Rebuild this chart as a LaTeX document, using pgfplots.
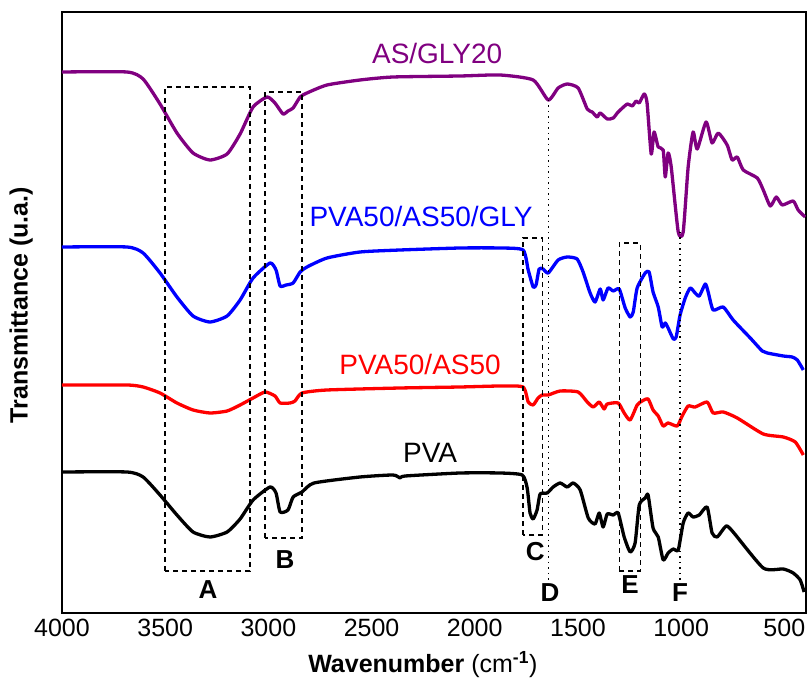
\documentclass[border=0pt]{standalone}
\usepackage{pgfplots}
\pgfplotsset{compat=1.18}
\usepackage{fontspec}
\setmainfont{Liberation Sans}
\definecolor{mypurple}{RGB}{128,0,128}
\begin{document}
\begin{tikzpicture}
\begin{axis}[
  at={(0,0)}, anchor=south west,
  scale only axis, width=744pt, height=601pt,
  x dir=reverse, xmin=395, xmax=4000, ymin=67, ymax=668,
  xtick={500,1000,...,4000}, ytick=\empty,
  major tick length=0pt,
  /pgf/number format/assume math mode=true,
  /pgf/number format/set thousands separator={},
  tick label style={font=\fontsize{25}{30}\selectfont},
  xticklabel style={yshift=-3pt},
  axis line style={line width=2pt},
  xlabel={\textbf{Wavenumber} (cm\textsuperscript{\textbf{-1}})},
  ylabel={\textbf{Transmittance (u.a.)}},
  label style={font=\fontsize{25}{30}\selectfont},
  x label style={at={(axis description cs:0.485,-0.0865)}, anchor=center},
  y label style={at={(axis description cs:-0.055,0.512)}, anchor=center},
  every axis plot/.append style={line width=3.3pt, line join=round, smooth, tension=0.35},
]
% AS/GLY20
\addplot[mypurple] coordinates {
(4000,608)(3685,608)(3607,601)(3525,576)(3443,547)(3365,527)(3283,520)(3200,526)(3137,546)(3074,573)
(3006,583)(2968,577)(2929,566)(2905,569)(2880,572)(2846,583)(2813,587)(2716,595)(2556,600)(2396,603)
(2071,604)(1877,605)(1717,600)(1644,580)(1596,592)(1552,596)(1499,592)(1455,571)(1431,568)(1407,563)
(1392,567)(1358,561)(1329,562)(1305,568)(1261,576)(1237,574)(1218,579)(1203,577)(1179,586)(1165,577)
(1145,526)(1131,548)(1111,533)(1087,530)(1077,503)(1063,527)(1048,513)(1014,448)(990,448)(966,513)
(942,548)(922,531)(879,558)(850,537)(820,547)(777,535)(753,520)(728,523)(699,510)(631,502)
(602,490)(568,474)(539,483)(510,475)(457,479)(433,470)(399,463)
};
% PVA50/AS50/GLY
\addplot[blue] coordinates {
(4000,433)(3685,433)(3607,427)(3525,407)(3443,383)(3365,364)(3283,358)(3200,364)(3137,380)(3074,402)
(2992,417)(2963,410)(2943,394)(2914,395)(2880,397)(2846,408)(2813,413)(2716,422)(2556,428)(2362,430)
(2071,432)(1877,432)(1766,430)(1741,410)(1717,393)(1703,395)(1688,411)(1669,411)(1644,407)(1596,420)
(1552,423)(1504,421)(1475,408)(1441,387)(1417,378)(1392,391)(1378,380)(1354,392)(1329,389)(1300,391)
(1271,372)(1247,363)(1232,368)(1213,392)(1174,407)(1155,408)(1136,388)(1111,373)(1092,353)(1077,357)
(1063,352)(1038,341)(1024,343)(1005,365)(980,382)(956,392)(932,387)(912,384)(883,396)(869,388)
(845,370)(796,373)(748,360)(665,342)(607,329)(583,327)(505,324)(462,323)(437,320)(408,310)
};
% PVA50/AS50
\addplot[red] coordinates {
(4000,295)(3685,295)(3607,293)(3525,287)(3443,277)(3365,270)(3283,267)(3200,269)(3137,275)(3074,282)
(3016,288)(2968,284)(2943,277)(2895,277)(2871,279)(2837,287)(2716,290)(2362,292)(2071,293)(1877,294)
(1766,293)(1741,278)(1717,275)(1693,282)(1673,285)(1644,285)(1586,289)(1499,288)(1455,278)(1426,273)
(1397,278)(1373,271)(1358,276)(1305,277)(1276,267)(1247,260)(1213,275)(1189,279)(1160,281)(1136,270)
(1111,264)(1087,254)(1063,257)(1019,254)(995,264)(966,274)(932,273)(874,278)(845,267)(796,268)
(728,262)(602,246)(505,243)(447,238)(408,225)
};
% PVA
\addplot[black] coordinates {
(4000,208)(3685,208)(3607,203)(3525,185)(3443,165)(3365,148)(3283,143)(3200,148)(3137,161)(3074,180)
(2992,193)(2963,187)(2943,168)(2905,170)(2880,183)(2837,188)(2779,197)(2556,203)(2396,205)(2362,202)
(2337,204)(2071,207)(1877,207)(1770,205)(1746,192)(1732,167)(1717,161)(1698,170)(1683,186)(1649,187)
(1620,193)(1586,197)(1552,193)(1523,197)(1489,190)(1450,162)(1417,156)(1397,167)(1378,153)(1358,166)
(1329,165)(1305,167)(1276,143)(1247,128)(1223,137)(1203,175)(1174,182)(1160,185)(1136,152)(1111,143)
(1087,120)(1063,127)(1038,131)(1014,130)(990,157)(966,167)(942,163)(912,165)(874,173)(850,147)
(825,143)(782,154)(748,148)(602,112)(505,111)(457,107)(423,100)(404,88)
};
% boxes
\draw[black, line width=1.3pt, dash pattern=on 5pt off 4pt] (axis cs:3501,109) rectangle (axis cs:3089,593);
\draw[black, line width=1.3pt, dash pattern=on 5pt off 4pt] (axis cs:3016,142) rectangle (axis cs:2837,588);
\draw[black, line width=1.3pt, dash pattern=on 5pt off 4pt] (axis cs:1766,145) rectangle (axis cs:1673,442);
\draw[black, line width=1.3pt, dash pattern=on 5pt off 4pt] (axis cs:1300,109) rectangle (axis cs:1198,437);
\draw[black, line width=1.4pt, dash pattern=on 1.5pt off 4pt] (axis cs:1644,580) -- (axis cs:1644,98);
\draw[black, line width=1.4pt, dash pattern=on 1.5pt off 4pt] (axis cs:1005,448) -- (axis cs:1005,100);
% letters
\begin{scope}[every node/.style={font=\fontsize{26}{30}\selectfont\bfseries, inner sep=0pt}]
\node at (axis cs:3292,90) {A};
\node at (axis cs:2919,120) {B};
\node at (axis cs:1707,128) {C};
\node at (axis cs:1635,87) {D};
\node at (axis cs:1247,95) {E};
\node at (axis cs:1005,87) {F};
\end{scope}
\begin{scope}[every node/.style={font=\fontsize{28}{32}\selectfont, inner sep=0pt}]
\node[text=mypurple] at (axis cs:2182,627) {AS/GLY20};
\node[text=blue] at (axis cs:2260,464) {PVA50/AS50/GLY};
\node[text=red] at (axis cs:2265,316) {PVA50/AS50};
\node[text=black] at (axis cs:2216,227) {PVA};
\end{scope}
\end{axis}
\pgfresetboundingbox
\path (-62pt,-67pt) rectangle (745pt,613pt);
\end{tikzpicture}
\end{document}
